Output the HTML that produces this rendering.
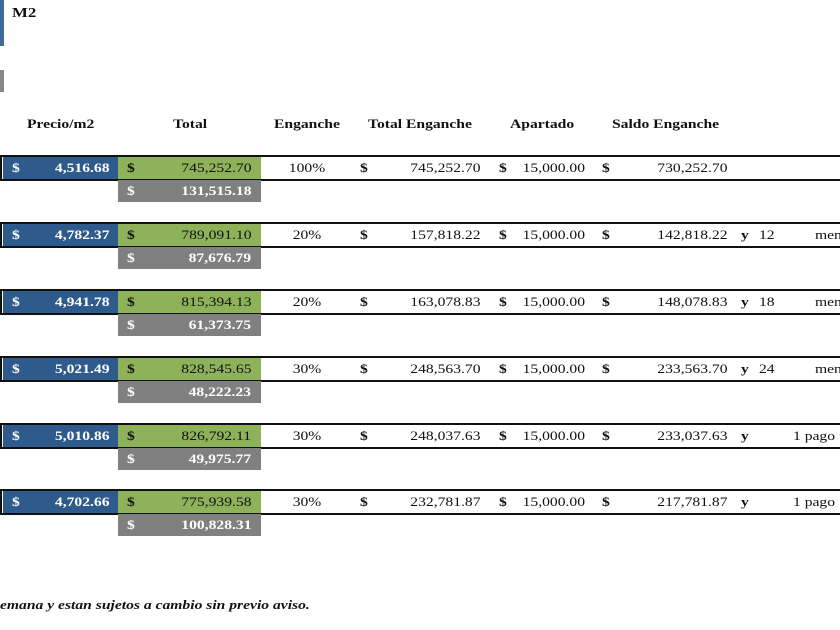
<!DOCTYPE html>
<html><head><meta charset="utf-8"><style>
body{margin:0;width:840px;height:630px;background:#fff;position:relative;overflow:hidden;font-family:"Liberation Serif",serif;font-size:13px;color:#111}
.a{position:absolute;white-space:nowrap}
.t{transform:scaleX(1.2);transform-origin:left center}
.r{text-align:right;transform:scaleX(1.2);transform-origin:right center}
.h{font-weight:bold;top:116px}
.bl{background:#2f5b8c}
.gr{background:#8db25a}
.gy{background:#808080}
.w{color:#fff;font-weight:bold}
.line{position:absolute;left:0;width:840px;height:2px;background:#111}
</style></head><body>
<div class="a" style="left:0;top:0;width:4px;height:46px;background:#3f6a9a"></div>
<div class="a t" style="left:12px;top:6px;font-weight:bold;font-size:14px">M2</div>
<div class="a" style="left:0;top:70px;width:4px;height:22px;background:#888"></div>
<div class="a h t" style="left:27px">Precio/m2</div>
<div class="a h t" style="left:173px">Total</div>
<div class="a h t" style="left:274px">Enganche</div>
<div class="a h t" style="left:368px">Total Enganche</div>
<div class="a h t" style="left:510px">Apartado</div>
<div class="a h t" style="left:612px">Saldo Enganche</div>
<div id="rows"></div>
<div class="a t" style="left:0;top:597px;font-weight:bold;font-style:italic">emana y estan sujetos a cambio sin previo aviso.</div>
<script>
var d=[
["4,516.68","745,252.70","131,515.18","100%","745,252.70","730,252.70","","",""],
["4,782.37","789,091.10","87,676.79","20%","157,818.22","142,818.22","y","12","men"],
["4,941.78","815,394.13","61,373.75","20%","163,078.83","148,078.83","y","18","men"],
["5,021.49","828,545.65","48,222.23","30%","248,563.70","233,563.70","y","24","men"],
["5,010.86","826,792.11","49,975.77","30%","248,037.63","233,037.63","y","","1 pago"],
["4,702.66","775,939.58","100,828.31","30%","232,781.87","217,781.87","y","","1 pago"]];
var tops=[157,224,291,358,425,491],h="";
d.forEach(function(r,i){var t=tops[i],ty=t+3;
h+='<div class="line" style="top:'+(t-2)+'px"></div><div class="line" style="top:'+(t+22)+'px"></div>';
h+='<div class="a" style="left:0;top:'+t+'px;width:2px;height:22px;background:#111"></div>';
h+='<div class="a bl" style="left:3px;top:'+t+'px;width:115px;height:22px"></div>';
h+='<div class="a gr" style="left:118px;top:'+t+'px;width:143px;height:22px"></div>';
h+='<div class="a gy" style="left:118px;top:'+(t+23)+'px;width:143px;height:22px"></div>';
h+='<div class="a w t" style="left:12px;top:'+ty+'px">$</div><div class="a w r" style="right:731px;top:'+ty+'px">'+r[0]+'</div>';
h+='<div class="a t" style="left:127px;top:'+ty+'px;font-weight:bold">$</div><div class="a r" style="right:589px;top:'+ty+'px">'+r[1]+'</div>';
h+='<div class="a w t" style="left:127px;top:'+(ty+23)+'px">$</div><div class="a w r" style="right:589px;top:'+(ty+23)+'px">'+r[2]+'</div>';
h+='<div class="a" style="left:289px;top:'+ty+'px;width:36px;text-align:center;transform:scaleX(1.2)">'+r[3]+'</div>';
h+='<div class="a t" style="left:360px;top:'+ty+'px;font-weight:bold">$</div><div class="a r" style="right:360px;top:'+ty+'px">'+r[4]+'</div>';
h+='<div class="a t" style="left:499px;top:'+ty+'px;font-weight:bold">$</div><div class="a r" style="right:255px;top:'+ty+'px">15,000.00</div>';
h+='<div class="a t" style="left:602px;top:'+ty+'px;font-weight:bold">$</div><div class="a r" style="right:113px;top:'+ty+'px">'+r[5]+'</div>';
h+='<div class="a t" style="left:741px;top:'+ty+'px;font-weight:bold">'+r[6]+'</div>';
h+='<div class="a t" style="left:759px;top:'+ty+'px">'+r[7]+'</div>';
h+='<div class="a t" style="left:'+(r[8]=="men"?815:793)+'px;top:'+ty+'px">'+r[8]+'</div>';
});
document.getElementById('rows').innerHTML=h;
</script>
</body></html>
